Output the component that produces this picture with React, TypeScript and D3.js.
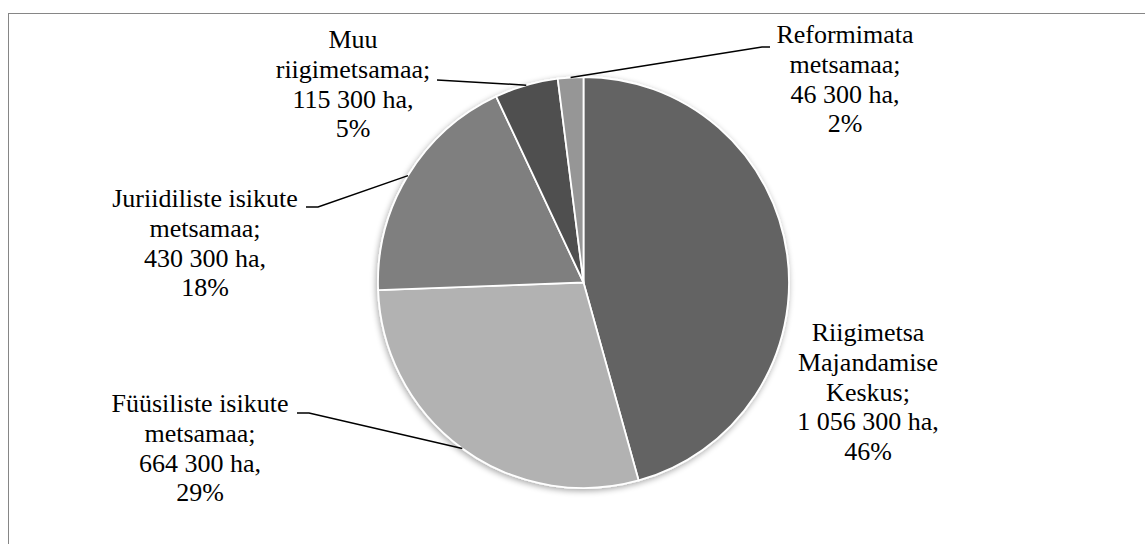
import React from "react";
import * as d3 from "d3";

const categories = [
  "Riigimetsa Majandamise Keskus",
  "Füüsiliste isikute metsamaa",
  "Juriidiliste isikute metsamaa",
  "Muu riigimetsamaa",
  "Reformimata metsamaa",
];
const values = [1056300, 664300, 430300, 115300, 46300];
const percents = ["46%", "29%", "18%", "5%", "2%"];
const labelLines = [
  ["Riigimetsa", "Majandamise", "Keskus;", "1 056 300 ha,", "46%"],
  ["Füüsiliste isikute", "metsamaa;", "664 300 ha,", "29%"],
  ["Juriidiliste isikute", "metsamaa;", "430 300 ha,", "18%"],
  ["Muu", "riigimetsamaa;", "115 300 ha,", "5%"],
  ["Reformimata", "metsamaa;", "46 300 ha,", "2%"],
];
const colors = ["#636363", "#b2b2b2", "#7f7f7f", "#4f4f4f", "#969696"];

const labelLayout = [
  { x: 868, y: 341, leader: null as null | { x0: number; x1: number; y: number } },
  { x: 200, y: 412, leader: { x0: 297, x1: 309, y: 413 } },
  { x: 205, y: 207, leader: { x0: 306, x1: 318, y: 207 } },
  { x: 353, y: 48, leader: { x0: 437, x1: 437, y: 80 } },
  { x: 845, y: 43, leader: { x0: 770, x1: 762, y: 47 } },
];

const W = 1145;
const H = 544;
const cx = 583.5;
const cy = 282.5;
const R = 205.5;
const lineH = 29.8;
const FONT = "'Liberation Serif', 'DejaVu Serif', serif";

export default function App() {
  const pie = d3.pie<number>().sort(null).value((d) => d)(values);
  const arc = d3.arc<d3.PieArcDatum<number>>().innerRadius(0).outerRadius(R);

  return (
    <svg
      width={W}
      height={H}
      style={{ position: "absolute", left: 0, top: 0, background: "#fff" }}
    >
      <defs>
        <filter id="sh" x="-20%" y="-20%" width="140%" height="140%">
          <feGaussianBlur in="SourceAlpha" stdDeviation="3" />
          <feOffset dx="-1" dy="2" result="b" />
          <feComponentTransfer>
            <feFuncA type="linear" slope="0.35" />
          </feComponentTransfer>
          <feMerge>
            <feMergeNode />
            <feMergeNode in="SourceGraphic" />
          </feMerge>
        </filter>
      </defs>
      <rect x={8.5} y={13.5} width={W + 20} height={H + 20} fill="#fff" stroke="#868686" strokeWidth={1} />
      <g transform={`translate(${cx},${cy})`} filter="url(#sh)">
        {pie.map((p, i) => (
          <path key={categories[i]} d={arc(p) || ""} fill={colors[i]} stroke="#fff" strokeWidth={1.8} />
        ))}
      </g>
      {pie.map((p, i) => {
        const lay = labelLayout[i];
        if (!lay.leader) return null;
        const mid = (p.startAngle + p.endAngle) / 2;
        const ex = cx + R * Math.sin(mid);
        const ey = cy - R * Math.cos(mid);
        return (
          <polyline
            key={"l" + i}
            points={`${lay.leader.x0},${lay.leader.y} ${lay.leader.x1},${lay.leader.y} ${ex},${ey}`}
            fill="none"
            stroke="#000"
            strokeWidth={1.5}
          />
        );
      })}
      {labelLines.map((lines, i) => (
        <text key={"t" + i} textAnchor="middle" fill="#000" style={{ fontFamily: FONT, fontSize: "26px" }}>
          {lines.map((ln, j) => (
            <tspan key={j} x={labelLayout[i].x} y={labelLayout[i].y + j * lineH}>
              {ln}
            </tspan>
          ))}
        </text>
      ))}
    </svg>
  );
}
